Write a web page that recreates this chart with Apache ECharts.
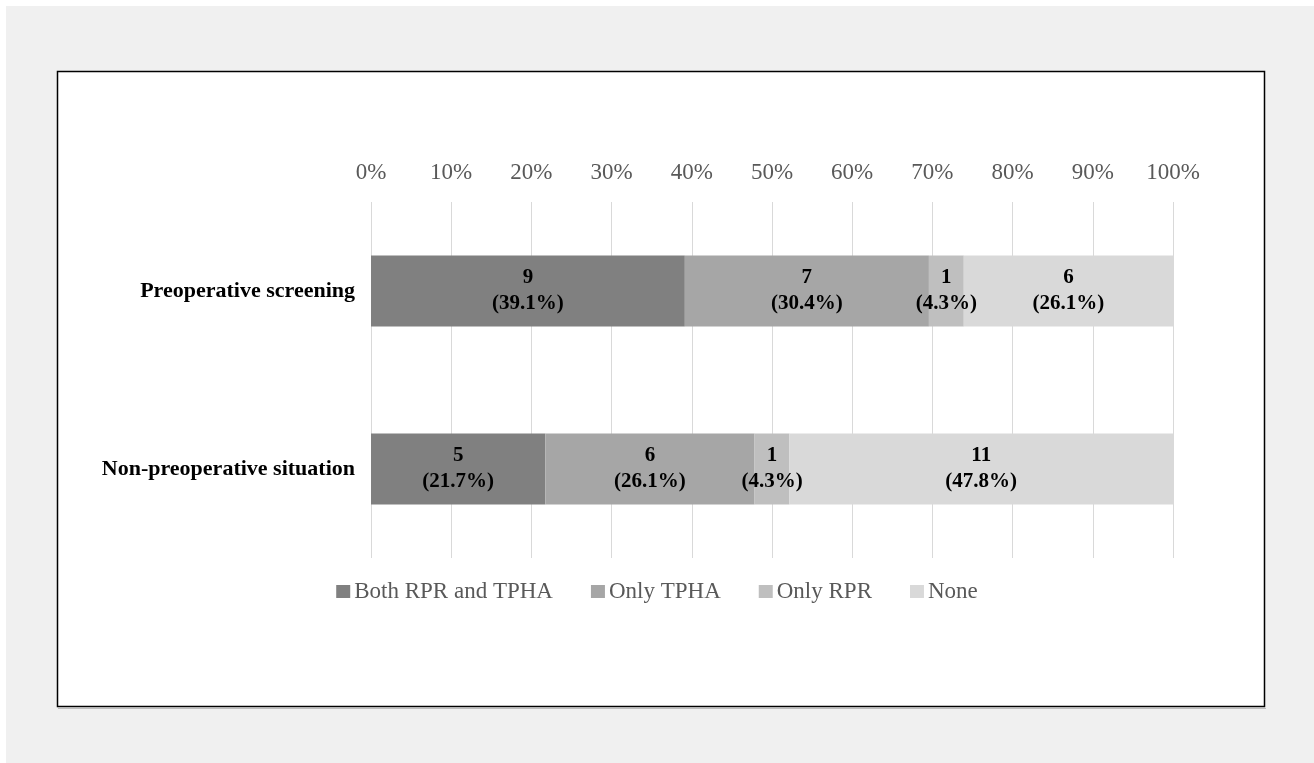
<!DOCTYPE html>
<html>
<head>
<meta charset="utf-8">
<script src="https://cdn.jsdelivr.net/npm/echarts@6/dist/echarts.min.js"></script>
<style>
  html, body { margin: 0; padding: 0; background: #ffffff; }
  #chart { width: 1314px; height: 763px; }
</style>
</head>
<body>
<div id="chart"></div>
<script>
// Survey groups and the number of patients in each test-result group
const categories = ['Preoperative screening', 'Non-preoperative situation'];
const seriesNames = ['Both RPR and TPHA', 'Only TPHA', 'Only RPR', 'None'];
const bothCounts = [9, 5];
const onlyTphaCounts = [7, 6];
const onlyRprCounts = [1, 1];
const noneCounts = [6, 11];
const tickLabels = ['0%', '10%', '20%', '30%', '40%', '50%', '60%', '70%', '80%', '90%', '100%'];

const countSets = [bothCounts, onlyTphaCounts, onlyRprCounts, noneCounts];
const colors = ['#808080', '#a6a6a6', '#bfbfbf', '#d9d9d9'];
const totals = categories.map((_, i) => countSets.reduce((s, arr) => s + arr[i], 0));

const serif = '"Liberation Serif", "Times New Roman", serif';

// Each bar segment is the group's share of the row total; the label shows count and share
const series = countSets.map((counts, si) => ({
  name: seriesNames[si],
  type: 'bar',
  stack: 'total',
  barWidth: 71,
  itemStyle: { color: colors[si] },
  emphasis: { disabled: true },
  data: counts.map((c, i) => ({ value: c / totals[i] * 100, count: c })),
  label: {
    show: true,
    position: 'inside',
    color: '#000',
    fontFamily: serif,
    fontWeight: 'bold',
    fontSize: 21,
    lineHeight: 26,
    formatter: p => p.data.count + '\n(' + p.value.toFixed(1) + '%)'
  }
}));

const chart = echarts.init(document.getElementById('chart'));
chart.setOption({
  backgroundColor: '#f0f0f0',
  animation: false,
  graphic: [
    { type: 'rect', z: -10, shape: { x: 0, y: 0, width: 1314, height: 6 }, style: { fill: '#ffffff' } },
    { type: 'rect', z: -10, shape: { x: 0, y: 0, width: 6, height: 763 }, style: { fill: '#ffffff' } },
    { type: 'line', z: -6, shape: { x1: 58, y1: 708.5, x2: 1266, y2: 708.5 },
      style: { stroke: '#bdbdbd', lineWidth: 1 } },
    { type: 'rect', z: -5, shape: { x: 57.5, y: 71.5, width: 1207, height: 635 },
      style: { fill: '#ffffff', stroke: '#000000', lineWidth: 1.5 } }
  ],
  grid: { left: 371, right: 141, top: 202, bottom: 205, containLabel: false },
  legend: {
    top: 575,
    left: 'center',
    itemWidth: 14,
    itemHeight: 13,
    itemGap: 38,
    icon: 'rect',
    textStyle: { fontFamily: serif, fontSize: 23, color: '#595959', padding: [0, 0, 0, -1] },
    data: seriesNames
  },
  xAxis: {
    type: 'value',
    position: 'top',
    min: 0,
    max: 100,
    interval: 10,
    axisLine: { show: false },
    axisTick: { show: false },
    splitLine: { lineStyle: { color: '#d9d9d9', width: 1 } },
    axisLabel: {
      margin: 18,
      fontFamily: serif,
      fontSize: 23,
      color: '#595959',
      formatter: v => tickLabels[Math.round(v / 10)]
    }
  },
  yAxis: {
    type: 'category',
    inverse: true,
    data: categories,
    axisLine: { show: false },
    axisTick: { show: false },
    axisLabel: {
      margin: 16,
      fontFamily: serif,
      fontWeight: 'bold',
      fontSize: 22,
      color: '#000'
    }
  },
  series: series
});
</script>
</body>
</html>
